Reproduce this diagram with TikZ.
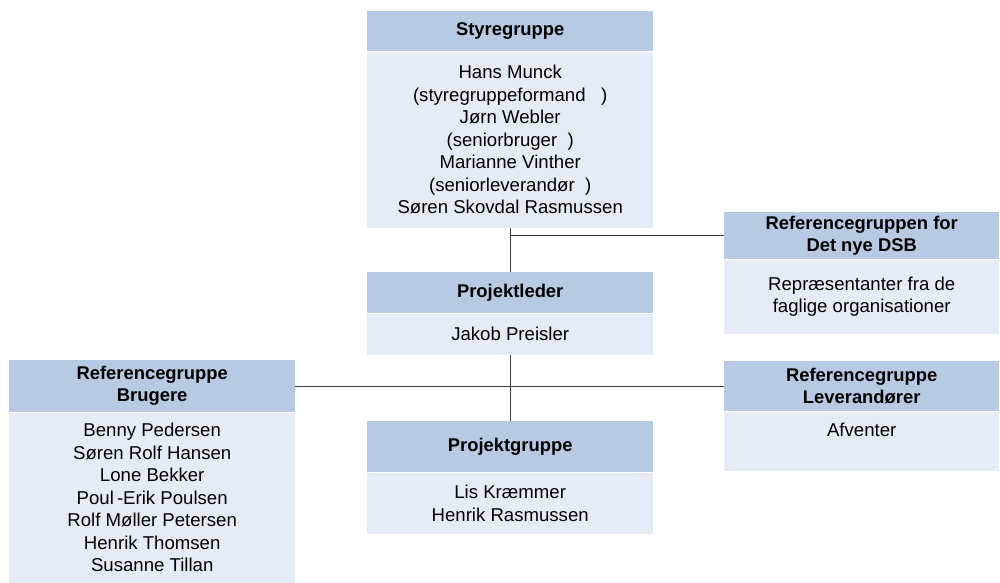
\documentclass[tikz,border=0pt]{standalone}
\usepackage{fontspec}
\setmainfont{Liberation Sans}
\usetikzlibrary{positioning}

\definecolor{headblue}{RGB}{184,201,227}
\definecolor{bodyblue}{RGB}{230,236,247}
\definecolor{linegray}{RGB}{60,60,60}

\tikzset{
  grouphead/.style={fill=headblue, inner sep=0pt, align=center, anchor=north west,
    font=\fontsize{18.4}{22}\selectfont\bfseries},
  groupbody/.style={fill=bodyblue, inner sep=0pt, align=center, below=0pt of #1,
    font=\fontsize{18.6}{22.5}\selectfont},
  conn/.style={draw=linegray, line width=1pt}
}

\begin{document}
\begin{tikzpicture}[x=1pt, y=-1pt]
    \useasboundingbox (0,0) rectangle (1000,582);

    % middle column
    \node[grouphead, minimum width=286, minimum height=40] (styrehead) at (367,11) {Styregruppe};
    \node[groupbody=styrehead, minimum width=286, minimum height=176] (styrebody)
      {Hans Munck\\(styregruppeformand\ \ \ )\\Jørn Webler\\(seniorbruger\ \ )\\Marianne Vinther\\(seniorleverandør\ \ )\\Søren Skovdal Rasmussen};

    \node[grouphead, minimum width=286, minimum height=41] (lederhead) at (367,272) {Projektleder};
    \node[groupbody=lederhead, minimum width=286, minimum height=41] (lederbody) {Jakob Preisler};

    \node[grouphead, minimum width=286, minimum height=51] (gruppehead) at (367,421) {Projektgruppe};
    \node[groupbody=gruppehead, minimum width=286, minimum height=61] (gruppebody) {Lis Kræmmer\\Henrik Rasmussen};

    % reference groups
    \node[grouphead, minimum width=275, minimum height=47] (dsbhead) at (724,212) {Referencegruppen for\\Det nye DSB};
    \node[groupbody=dsbhead, minimum width=275, minimum height=74] (dsbbody) {Repræsentanter fra de\\faglige organisationer};

    \node[grouphead, minimum width=286, minimum height=52] (brugerhead) at (9,360) {Referencegruppe\\Brugere};
    \node[groupbody=brugerhead, minimum width=286, minimum height=170] (brugerbody)
      {Benny Pedersen\\Søren Rolf Hansen\\Lone Bekker\\Poul\,-Erik Poulsen\\Rolf Møller Petersen\\Henrik Thomsen\\Susanne Tillan};

    \node[grouphead, minimum width=275, minimum height=50] (leverhead) at (724,361) {Referencegruppe\\Leverandører};
    \node[groupbody=leverhead, minimum width=275, minimum height=59] (leverbody) {Afventer\\~};

    % connectors
    \draw[conn] (styrebody.south) -- (lederhead.north);
    \draw[conn] (dsbhead.west) -- (dsbhead.west -| styrebody.south);
    \draw[conn] (lederbody.south) -- (gruppehead.north);
    \draw[conn] (brugerhead.east) -- (leverhead.west);
\end{tikzpicture}
\end{document}
